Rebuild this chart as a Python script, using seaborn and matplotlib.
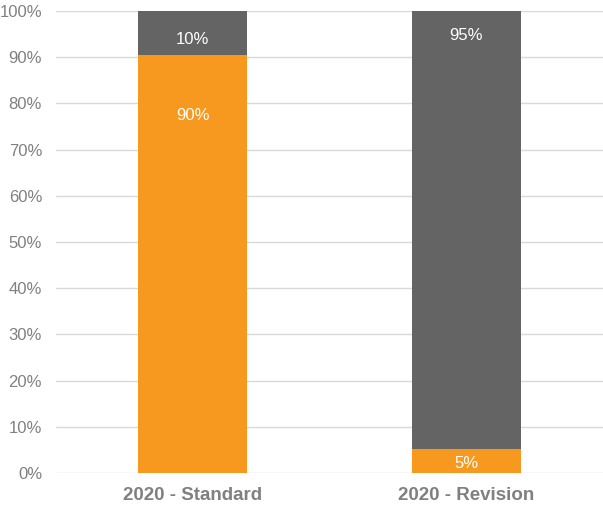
import pandas as pd
import matplotlib.pyplot as plt
import seaborn as sns

# chart data
categories = ['2020 - Standard', '2020 - Revision']
orange_vals = [90.5, 5.3]
gray_vals = [9.5, 94.7]
yticks = [0, 10, 20, 30, 40, 50, 60, 70, 80, 90, 100]

ORANGE = '#F7991E'
GRAY = '#646464'
TEXT = '#808080'

data = pd.DataFrame({'category': categories, 'orange': orange_vals, 'gray': gray_vals})
data['total'] = data['orange'] + data['gray']

sns.set_style('white')
plt.rcParams['font.family'] = ['Liberation Sans', 'DejaVu Sans']

fig = plt.figure(figsize=(6.03, 5.05), dpi=100)
ax = fig.add_axes([56 / 603, 32 / 505, 547 / 603, 462 / 505])

# stacked look: full height in gray, orange drawn over it
sns.barplot(data=data, x='category', y='total', color=GRAY, width=0.4,
            saturation=1, linewidth=0, edgecolor='none', ax=ax, zorder=3)
sns.barplot(data=data, x='category', y='orange', color=ORANGE, width=0.4,
            saturation=1, linewidth=0, edgecolor='none', ax=ax, zorder=3)

ax.set_xlim(-0.5, 1.5)
ax.set_ylim(0, 100)
ax.set_yticks(yticks)
ax.set_yticklabels([f'{t}%' for t in yticks])
ax.grid(axis='y', color='#D9D9D9', linewidth=1, zorder=0)
ax.set_axisbelow(True)
for s in ax.spines.values():
    s.set_visible(False)
ax.tick_params(axis='y', length=0, pad=10, labelsize=12, labelcolor=TEXT)
ax.tick_params(axis='x', length=0, pad=10, labelsize=13.5, labelcolor=TEXT)
for lbl in ax.get_xticklabels():
    lbl.set_fontweight('bold')
ax.set_xlabel('')
ax.set_ylabel('')

# value labels (pixel offsets below segment top)
orange_off = [61, None]
gray_off = [29, 25]
for i, row in data.iterrows():
    o = row['orange']
    g = row['gray']
    if orange_off[i] is None:
        ax.annotate(f'{o:.0f}%', (i, o / 2), xytext=(0, -3),
                    textcoords='offset pixels', color='white', fontsize=12,
                    ha='center', va='center', zorder=5)
    else:
        ax.annotate(f'{o:.0f}%', (i, o), xytext=(0, -orange_off[i]),
                    textcoords='offset pixels', color='white', fontsize=12,
                    ha='center', va='center', zorder=5)
    ax.annotate(f'{g:.0f}%', (i, o + g), xytext=(0, -gray_off[i]),
                textcoords='offset pixels', color='white', fontsize=12,
                ha='center', va='center', zorder=5)

fig.savefig('out.png', dpi=100)
